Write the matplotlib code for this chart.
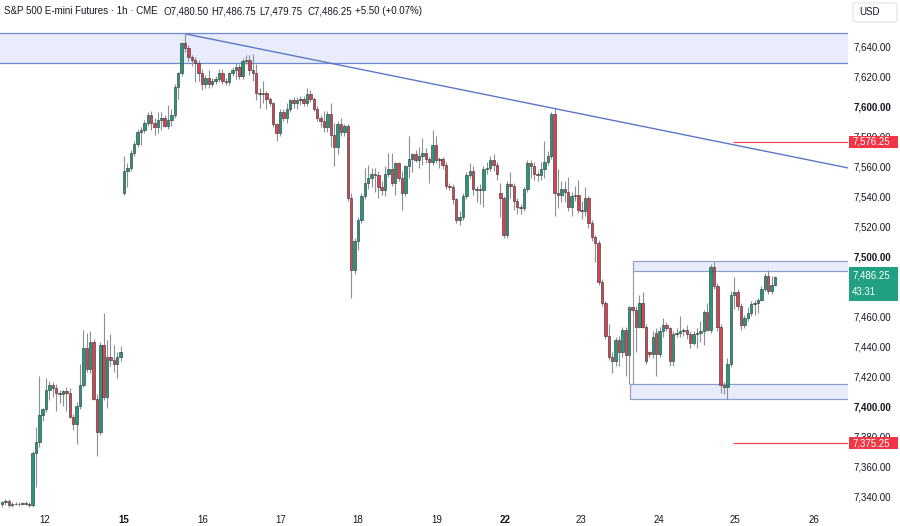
import matplotlib
matplotlib.use("Agg")
import matplotlib.pyplot as plt
import matplotlib.transforms as mtransforms
from matplotlib.patches import Rectangle, FancyBboxPatch

plt.rcParams['font.family'] = ['Liberation Sans', 'DejaVu Sans']

# hourly candles (oldest first)
opens = [
    7335, 7336, 7337, 7334, 7335, 7334.5, 7335, 7335.5, 7335, 7334, 7369, 7376,
    7394, 7398, 7411, 7414, 7412, 7409, 7408, 7410, 7409, 7393, 7388, 7400,
    7414, 7439, 7425, 7443, 7405, 7383, 7441, 7406, 7433, 7431, 7428, 7433,
    7542, 7557, 7559, 7569, 7575, 7583, 7584, 7589, 7594, 7589, 7586, 7591,
    7592, 7587, 7591, 7594, 7613, 7622, 7642, 7639, 7633, 7631, 7629, 7622,
    7615, 7619, 7615, 7617, 7618, 7622, 7617, 7616, 7622, 7624, 7626, 7620,
    7630, 7631, 7624, 7622, 7609, 7608, 7608.5, 7605, 7602, 7588, 7582, 7596,
    7592, 7598, 7604, 7602, 7604, 7605, 7602, 7608, 7605, 7598, 7592, 7590,
    7586, 7595, 7581, 7573, 7588, 7583, 7587, 7539, 7491, 7510, 7524, 7540,
    7549, 7552, 7555, 7554, 7546, 7544, 7555, 7558, 7549, 7562, 7552, 7542,
    7560, 7565, 7568, 7564, 7567, 7569, 7565, 7563, 7574, 7564, 7565, 7561,
    7547, 7546, 7538, 7524, 7526, 7540, 7554, 7557, 7545, 7544, 7544, 7558,
    7559, 7564, 7561, 7542, 7539, 7514, 7548, 7547, 7537, 7533, 7532, 7545,
    7562, 7560, 7555, 7554, 7558, 7563, 7567, 7595, 7542, 7541, 7545, 7543,
    7533, 7540, 7541, 7531, 7530, 7539, 7522, 7513, 7509, 7483, 7469, 7447,
    7433, 7430, 7444, 7436, 7451, 7434, 7466, 7464, 7453, 7469, 7453, 7436,
    7435, 7449, 7435, 7450, 7454, 7452, 7430, 7448, 7449, 7450, 7451, 7448,
    7442, 7448, 7448.5, 7450, 7463, 7451, 7493, 7480, 7453, 7414, 7413, 7428,
    7474, 7476, 7467, 7454, 7459, 7462, 7468, 7469, 7471, 7478, 7487, 7477,
    7480.5,
]
highs = [
    7337, 7338, 7338, 7336, 7336, 7336, 7336, 7337, 7336, 7370, 7386, 7420,
    7399, 7419, 7417, 7416, 7415, 7411, 7411, 7413, 7412, 7395, 7403, 7428,
    7451, 7449, 7450, 7445, 7408, 7443, 7462, 7444, 7448, 7441, 7436, 7440,
    7567, 7562, 7571, 7577, 7585, 7586, 7591, 7596, 7597, 7592, 7596, 7596,
    7594, 7601, 7598, 7615, 7623, 7643, 7648, 7641, 7634, 7633, 7631, 7625,
    7621, 7624, 7619, 7620, 7625, 7625, 7619, 7623, 7626, 7629, 7628, 7632,
    7634, 7634, 7635, 7628, 7612, 7617, 7610, 7606, 7603, 7589, 7598, 7598,
    7602, 7605, 7606, 7606, 7607, 7607, 7612, 7611, 7606, 7600, 7594, 7597,
    7597, 7602, 7589, 7590, 7592, 7588, 7588, 7542, 7512, 7526, 7542, 7559,
    7561, 7559, 7559, 7557, 7550, 7560, 7569, 7569, 7563, 7563, 7557, 7561,
    7580, 7569, 7571, 7573, 7579, 7572, 7566, 7584, 7580, 7566, 7566, 7563,
    7549, 7548, 7539, 7530, 7542, 7556, 7562, 7560, 7547, 7548, 7560, 7563,
    7567, 7568, 7563, 7549, 7540, 7550, 7556, 7549, 7539, 7535, 7546, 7564,
    7564, 7563, 7557, 7563, 7577, 7570, 7596, 7599, 7558, 7550, 7550, 7553,
    7543, 7547, 7551, 7537, 7546, 7540, 7524, 7514, 7511, 7485, 7470, 7455,
    7436, 7446, 7447, 7453, 7453, 7467, 7467, 7467, 7474, 7476, 7455, 7437,
    7450, 7452, 7453, 7459, 7456, 7453, 7450, 7452, 7460, 7452, 7454, 7450,
    7450, 7452, 7457, 7464, 7469, 7495, 7496, 7482, 7455, 7416, 7432, 7477,
    7486, 7478, 7469, 7461, 7466, 7470, 7471, 7472, 7480, 7489, 7491, 7487,
    7486.75,
]
lows = [
    7333, 7334, 7333, 7333, 7334, 7333.5, 7334, 7334, 7333, 7333, 7346, 7373,
    7390, 7396, 7404, 7406, 7397, 7402, 7400, 7397, 7392, 7384, 7375, 7398,
    7413, 7423, 7422, 7404, 7367, 7381, 7404, 7399, 7427, 7423, 7419, 7430,
    7541, 7546, 7557, 7567, 7573, 7574, 7582, 7587, 7584, 7581, 7582, 7584,
    7586, 7585, 7587, 7592, 7605, 7620, 7636, 7630, 7627, 7616, 7617, 7611,
    7612, 7612, 7613, 7615, 7616, 7615, 7614, 7614, 7620, 7618, 7618, 7618,
    7628, 7621, 7617, 7604, 7599, 7602, 7598, 7600, 7586, 7577, 7580, 7590,
    7589, 7596, 7599, 7598, 7601, 7600, 7600, 7603, 7597, 7590, 7586, 7583,
    7583, 7573, 7560, 7568, 7580, 7580, 7537, 7472, 7488, 7504, 7522, 7538,
    7545, 7546, 7543, 7539, 7541, 7540, 7553, 7547, 7541, 7550, 7531, 7540,
    7552, 7556, 7563, 7559, 7561, 7562, 7549, 7561, 7562, 7559, 7558, 7545,
    7544, 7535, 7522, 7521, 7524, 7538, 7552, 7541, 7536, 7535, 7533, 7555,
    7557, 7557, 7551, 7526, 7512, 7512, 7539, 7531, 7528, 7528, 7530, 7543,
    7552, 7551, 7550, 7551, 7552, 7561, 7565, 7527, 7532, 7536, 7536, 7530,
    7527, 7537, 7529, 7525, 7527, 7519, 7510, 7496, 7481, 7467, 7445, 7431,
    7422, 7427, 7427, 7433, 7420, 7415, 7462, 7436, 7452, 7452, 7428, 7433,
    7432, 7420, 7433, 7446, 7450, 7427, 7427, 7446, 7446, 7447, 7445, 7439,
    7441, 7439, 7443, 7441, 7450, 7449, 7478, 7450, 7409, 7408, 7405, 7426,
    7465, 7464, 7451, 7452, 7457, 7460, 7461, 7462, 7470, 7477, 7475, 7475,
    7479.75,
]
closes = [
    7336, 7337, 7334, 7335, 7334.5, 7335, 7335.5, 7335, 7334, 7369, 7376, 7394,
    7398, 7411, 7414, 7412, 7409, 7408, 7410, 7409, 7393, 7388, 7400, 7414,
    7439, 7425, 7443, 7405, 7383, 7441, 7406, 7433, 7431, 7428, 7433, 7436,
    7557, 7559, 7569, 7575, 7583, 7584, 7589, 7594, 7589, 7586, 7591, 7592,
    7587, 7591, 7594, 7613, 7622, 7642, 7639, 7633, 7631, 7629, 7622, 7615,
    7619, 7615, 7617, 7618, 7622, 7617, 7616, 7622, 7624, 7626, 7620, 7630,
    7631, 7624, 7622, 7609, 7608, 7608.5, 7605, 7602, 7588, 7582, 7596, 7592,
    7598, 7604, 7602, 7604, 7605, 7602, 7608, 7605, 7598, 7592, 7590, 7586,
    7595, 7581, 7573, 7588, 7583, 7587, 7539, 7491, 7510, 7524, 7540, 7549,
    7552, 7555, 7554, 7546, 7544, 7555, 7558, 7549, 7562, 7552, 7542, 7560,
    7565, 7568, 7564, 7567, 7569, 7565, 7563, 7574, 7564, 7565, 7561, 7547,
    7546, 7538, 7524, 7526, 7540, 7554, 7557, 7545, 7544, 7545, 7558, 7559,
    7564, 7561, 7555, 7539, 7514, 7548, 7547, 7537, 7533, 7532, 7545, 7562,
    7560, 7555, 7554, 7558, 7563, 7567, 7595, 7542, 7541, 7545, 7543, 7533,
    7540, 7541, 7531, 7530, 7539, 7522, 7513, 7509, 7483, 7469, 7447, 7433,
    7430, 7444, 7436, 7451, 7434, 7466, 7464, 7453, 7469, 7453, 7430, 7435,
    7446, 7435, 7450, 7454, 7452, 7430, 7448, 7449, 7450, 7451, 7448, 7442,
    7448, 7448.5, 7450, 7463, 7451, 7493, 7480, 7453, 7414, 7413, 7428, 7474,
    7476, 7467, 7454, 7459, 7462, 7468, 7469, 7471, 7478, 7487, 7477, 7480.5,
    7486.25,
]

# time axis (bar index where each day label sits)
day_labels = ['12', '15', '16', '17', '18', '19', '22', '23', '24', '25', '26']
day_pos = [12.7, 36.0, 59.3, 82.3, 105.0, 128.3, 148.4, 170.8, 193.8, 216.2, 239.5]
bold_days = ['15', '22']
price_ticks = [7340, 7360, 7380, 7400, 7420, 7440, 7460, 7500, 7520, 7540,
               7560, 7580, 7600, 7620, 7640]

# header values
change = 5.50
change_pct = 0.07

# drawings
top_zone = (7629, 7649)
range_top = (7490, 7497)
range_bottom = (7405, 7415)
trend_x = [54.3, 249.6]
trend_y = [7648, 7558.7]
level_high = 7576.25
level_low = 7375.25
last_price = 7486.25
countdown = '43:31'

up_col = '#1f9a7d'
down_col = '#d8434f'

fig = plt.figure(figsize=(9, 5.26), dpi=100)
ax = fig.add_axes([0, 18 / 526, 848 / 900, 508 / 526])
ax.set_xlim(-0.59, 249.56)
ax.set_ylim(7332, 7670.67)

# zones
ax.add_patch(Rectangle((-5, top_zone[0]), 260, top_zone[1] - top_zone[0],
                       fc='#e9edfb', ec='#6f88d0', lw=0.9, zorder=1))
ax.add_patch(Rectangle((186.1, range_top[0]), 70, range_top[1] - range_top[0],
                       fc='#e9edfb', ec='#8fa1c9', lw=0.9, zorder=1))
ax.add_patch(Rectangle((185.2, range_bottom[0]), 70, range_bottom[1] - range_bottom[0],
                       fc='#e9edfb', ec='#8fa1c9', lw=0.9, zorder=1))
ax.vlines(186.1, range_bottom[1], range_top[0], color='#9598a1', lw=0.8, zorder=1)

# candles
xs = list(range(len(closes)))
colors = [up_col if c >= o else down_col for o, c in zip(opens, closes)]
ax.vlines(xs, lows, highs, color='#8c8f96', lw=0.8, zorder=2)
heights = [max(abs(c - o), 0.5) for o, c in zip(opens, closes)]
bottoms = [min(o, c) for o, c in zip(opens, closes)]
ax.bar(xs, heights, bottom=bottoms, width=0.72, color=colors,
       edgecolor='#2e2e2e', linewidth=0.4, zorder=3)

# trend line and levels
ax.plot(trend_x, trend_y, color='#5b77c9', lw=1.0, zorder=4)
ax.hlines([level_high, level_low], 215.6, 249.6, color='#f23645', lw=0.8, zorder=4)

# axes styling
for s in ax.spines.values():
    s.set_visible(False)
ax.set_xticks(day_pos)
ax.set_xticklabels(day_labels)
ax.tick_params(axis='x', length=0, pad=5, labelsize=7, colors='#131722')
for t in ax.get_xticklabels():
    if t.get_text() in bold_days:
        t.set_fontweight('bold')
ax.yaxis.tick_right()
ax.set_yticks(price_ticks)
ax.set_yticklabels([f'{v:,.2f}' for v in price_ticks])
ax.tick_params(axis='y', length=0, pad=4, labelsize=7, colors='#131722')
for v, t in zip(price_ticks, ax.get_yticklabels()):
    if v % 100 == 0:
        t.set_fontweight('bold')

# price scale labels
trans = mtransforms.blended_transform_factory(ax.transAxes, ax.transData)
px = 1.5  # pixels per point
box_w = 49 / 848


def price_box(y, h_px, color, lines, line_offsets):
    ax.add_patch(Rectangle((1 + 1 / 848, y - h_px / 2 / px), box_w, h_px / px,
                           transform=trans, fc=color, ec='none', zorder=10, clip_on=False))
    for txt, off in zip(lines, line_offsets):
        ax.text(1 + 4 / 848, y + off / px, txt, transform=trans, ha='left', va='center',
                fontsize=7, color='white', zorder=11, clip_on=False)


price_box(level_high, 12, '#f23645', [f'{level_high:,.2f}'], [0])
price_box(level_low, 12, '#f23645', [f'{level_low:,.2f}'], [0])
price_box(last_price - 7.5 / px, 34, '#22a083', [f'{last_price:,.2f}', countdown], [8.5, -8])

# header
fig.text(4 / 900, 1 - 11 / 526, 'S&P 500 E-mini Futures · 1h · CME', fontsize=7,
         color='#131722', va='center')
ohlc = [('O', opens[-1]), ('H', highs[-1]), ('L', lows[-1]), ('C', closes[-1])]
hx = 163
for k, v in ohlc:
    fig.text(hx / 900, 1 - 11 / 526, f'{k}{v:,.2f}', fontsize=7, color='#131722', va='center')
    hx += 48
fig.text(hx / 900, 1 - 11 / 526, f'+{change:.2f} (+{change_pct:.2f}%)',
         fontsize=7, color='#131722', va='center')

fig.patches.append(FancyBboxPatch((853 / 900, 1 - 22 / 526), 44 / 900, 19 / 526,
                                  boxstyle='round,pad=0,rounding_size=0.004',
                                  transform=fig.transFigure, fc='white', ec='#e0e3eb', lw=0.8))
fig.text(859 / 900, 1 - 12 / 526, 'USD', fontsize=7, color='#131722', va='center')

fig.savefig('out.png', dpi=100, facecolor='white')
